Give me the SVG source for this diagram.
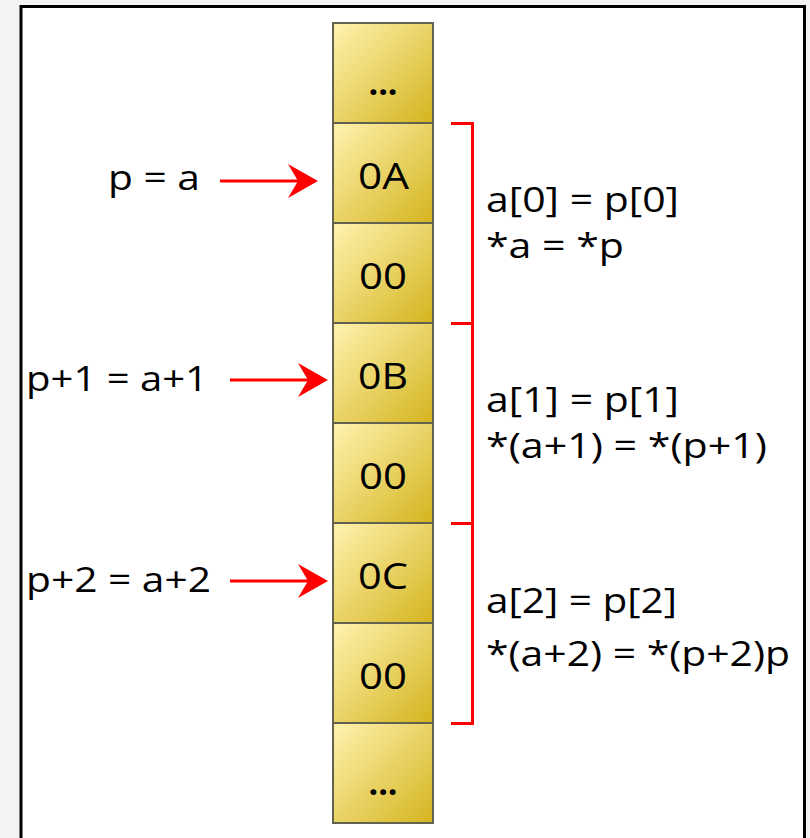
<svg xmlns="http://www.w3.org/2000/svg" width="810" height="838" viewBox="0 0 810 838">
<style>
.cell{stroke:#62624e;stroke-width:2;fill:url(#g)}
.lbl{font-family:"Open Sans","Noto Sans",sans-serif;font-size:36px;fill:#000}
.dots{font-family:"Open Sans","Noto Sans",sans-serif;font-size:34px;font-weight:bold;fill:#000}
.txt{font-family:"Open Sans","Noto Sans",sans-serif;font-size:34px;fill:#000}
.arr{stroke:#ff0000;stroke-width:3;fill:none;marker-end:url(#ah)}
.br{stroke:#ff0000;stroke-width:3;fill:none}
</style>
<defs>
<linearGradient id="g" x1="0" y1="0" x2="1" y2="1">
<stop offset="0" stop-color="#fff3b0"/>
<stop offset="1" stop-color="#d4b41e"/>
</linearGradient>
<marker id="ah" viewBox="0 0 30 34" refX="20" refY="17" markerWidth="30" markerHeight="34" markerUnits="userSpaceOnUse" orient="auto">
<path d="M30,17 L0,0 L10,17 L0,34 Z" fill="#ff0000"/>
</marker>
</defs>
<rect x="0" y="0" width="810" height="838" fill="#f3f3f3"/>
<rect x="21" y="6.5" width="783.5" height="900" fill="#ffffff" stroke="#000" stroke-width="3"/>
<g id="cell0"><rect class="cell" x="333" y="23" width="100" height="100"/><text class="dots" x="383" y="95" text-anchor="middle">...</text></g>
<g id="cell1"><rect class="cell" x="333" y="123" width="100" height="100"/><text class="lbl" x="358" y="189" textLength="51" lengthAdjust="spacingAndGlyphs">0A</text></g>
<g id="cell2"><rect class="cell" x="333" y="223" width="100" height="100"/><text class="lbl" x="359" y="289" textLength="48" lengthAdjust="spacingAndGlyphs">00</text></g>
<g id="cell3"><rect class="cell" x="333" y="323" width="100" height="100"/><text class="lbl" x="358" y="389" textLength="50" lengthAdjust="spacingAndGlyphs">0B</text></g>
<g id="cell4"><rect class="cell" x="333" y="423" width="100" height="100"/><text class="lbl" x="359" y="489" textLength="48" lengthAdjust="spacingAndGlyphs">00</text></g>
<g id="cell5"><rect class="cell" x="333" y="523" width="100" height="100"/><text class="lbl" x="358" y="589" textLength="50" lengthAdjust="spacingAndGlyphs">0C</text></g>
<g id="cell6"><rect class="cell" x="333" y="623" width="100" height="100"/><text class="lbl" x="359" y="689" textLength="48" lengthAdjust="spacingAndGlyphs">00</text></g>
<g id="cell7"><rect class="cell" x="333" y="723" width="100" height="100"/><text class="dots" x="383" y="795" text-anchor="middle">...</text></g>
<g id="ptr0"><text class="txt" x="108" y="190" textLength="92" lengthAdjust="spacingAndGlyphs">p = a</text></g>
<g id="ptr1"><text class="txt" x="26" y="391" textLength="182" lengthAdjust="spacingAndGlyphs">p+1 = a+1</text></g>
<g id="ptr2"><text class="txt" x="26" y="592" textLength="185" lengthAdjust="spacingAndGlyphs">p+2 = a+2</text></g>
<g id="grp0"><text class="txt" x="486" y="212" textLength="193" lengthAdjust="spacingAndGlyphs">a[0] = p[0]</text><text class="txt" x="486" y="258" textLength="138" lengthAdjust="spacingAndGlyphs">*a = *p</text></g>
<g id="grp1"><text class="txt" x="486" y="412" textLength="193" lengthAdjust="spacingAndGlyphs">a[1] = p[1]</text><text class="txt" x="486" y="458" textLength="281" lengthAdjust="spacingAndGlyphs">*(a+1) = *(p+1)</text></g>
<g id="grp2"><text class="txt" x="486" y="613" textLength="191" lengthAdjust="spacingAndGlyphs">a[2] = p[2]</text><text class="txt" x="486" y="666" textLength="304" lengthAdjust="spacingAndGlyphs">*(a+2) = *(p+2)p</text></g>
<g id="connectors">
<line class="arr" x1="220" y1="181" x2="308" y2="181"/>
<line class="arr" x1="230" y1="380" x2="318" y2="380"/>
<line class="arr" x1="230" y1="581" x2="318" y2="581"/>
<path class="br" d="M451,123.5 H472.5 V723.5 H451 M451,323.5 H472.5 M451,523.5 H472.5"/>
</g>
</svg>
